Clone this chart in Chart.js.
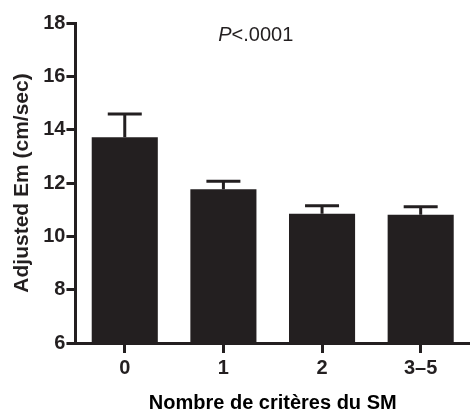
<!DOCTYPE html>
<html>
<head>
<meta charset="utf-8">
<script src="https://cdn.jsdelivr.net/npm/chart.js@4"></script>
<style>
  html, body { margin: 0; padding: 0; background: #fff; }
  #wrap { width: 470px; height: 417px; }
</style>
</head>
<body>
<div id="wrap"><canvas id="emChart"></canvas></div>
<script>
// data
const categories = ['0', '1', '2', '3\u20135'];
const meanEm = [13.72, 11.77, 10.85, 10.81];
const errTop = [14.59, 12.07, 11.15, 11.11];
const yTicks = [6, 8, 10, 12, 14, 16, 18];

const ink = '#231f20';
const font = "'Liberation Sans', Arial, sans-serif";

// error bars + p-value label
const errorBars = {
    id: 'errorBars',
    afterDatasetsDraw(chart) {
        const ctx = chart.ctx;
        const meta = chart.getDatasetMeta(0);
        const y = chart.scales.y;
        ctx.save();
        ctx.strokeStyle = ink;
        ctx.lineWidth = 3;
        meta.data.forEach((bar, i) => {
            const top = y.getPixelForValue(errTop[i]);
            ctx.beginPath();
            ctx.moveTo(bar.x, bar.y);
            ctx.lineTo(bar.x, top);
            ctx.moveTo(bar.x - 17, top);
            ctx.lineTo(bar.x + 17, top);
            ctx.stroke();
        });
        // P<.0001
        const area = chart.chartArea;
        const cx = (area.left + area.right) / 2 - 17;
        const cy = y.getPixelForValue(17.55);
        ctx.fillStyle = ink;
        ctx.textBaseline = 'middle';
        ctx.textAlign = 'left';
        ctx.font = 'italic 20px ' + font;
        const pw = ctx.measureText('P').width;
        ctx.font = '20px ' + font;
        const rw = ctx.measureText('<.0001').width;
        const x0 = cx - (pw + rw) / 2;
        ctx.font = 'italic 20px ' + font;
        ctx.fillText('P', x0, cy);
        ctx.font = '20px ' + font;
        ctx.fillText('<.0001', x0 + pw, cy);
        ctx.restore();
    }
};

document.addEventListener('DOMContentLoaded', () => {
    const emCtx = document.getElementById('emChart').getContext('2d');
    new Chart(emCtx, {
        type: 'bar',
        data: {
            labels: categories,
            datasets: [
                {
                    data: meanEm,
                    backgroundColor: ink,
                    borderWidth: 0,
                    barPercentage: 0.67,
                    categoryPercentage: 1,
                },
            ],
        },
        options: {
            responsive: true,
            maintainAspectRatio: false,
            animation: false,
            layout: { padding: { top: 23, right: 0, left: 10, bottom: 2 } },
            plugins: {
                legend: { display: false },
                tooltip: { enabled: false },
            },
            scales: {
                x: {
                    border: { color: ink, width: 3 },
                    grid: {
                        drawOnChartArea: false,
                        color: ink,
                        lineWidth: 3,
                        tickLength: 10,
                        offset: false,
                        tickColor: ink,
                        tickWidth: 3,
                    },
                    ticks: {
                        color: ink,
                        font: { family: font, size: 20, weight: 'bold' },
                        padding: 3,
                    },
                    title: {
                        display: true,
                        text: 'Nombre de crit\u00e8res du SM',
                        color: '#000',
                        font: { family: font, size: 20, weight: 'bold' },
                        padding: { top: 8, bottom: 0 },
                    },
                },
                y: {
                    min: 6,
                    max: 18,
                    afterBuildTicks: (axis) => {
                        axis.ticks = yTicks.map((v) => ({ value: v }));
                    },
                    border: { color: ink, width: 3 },
                    grid: {
                        drawOnChartArea: false,
                        color: ink,
                        lineWidth: 3,
                        tickLength: 9,
                        tickWidth: 3,
                    },
                    ticks: {
                        color: ink,
                        font: { family: font, size: 20, weight: 'bold' },
                        padding: 1,
                    },
                    title: {
                        display: true,
                        text: 'Adjusted Em (cm/sec)',
                        color: ink,
                        font: { family: font, size: 21, weight: 'bold' },
                        padding: { top: 0, bottom: 7 },
                    },
                },
            },
        },
        plugins: [errorBars],
    });
});
</script>
</body>
</html>
